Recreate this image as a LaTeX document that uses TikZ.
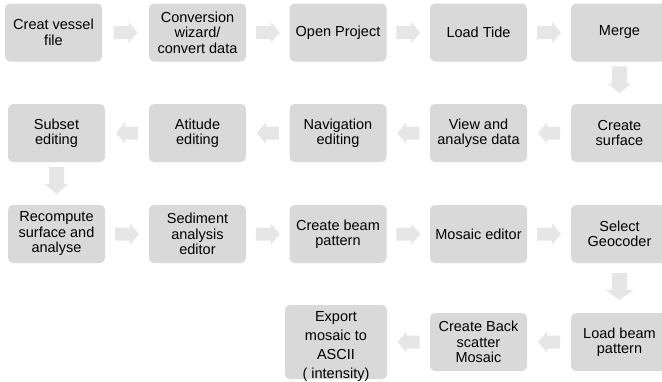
\documentclass[tikz,border=0pt]{standalone}
\usepackage{fontspec}
\setmainfont{Liberation Sans}
\usetikzlibrary{calc}
\definecolor{boxfill}{HTML}{D9D9D9}
\definecolor{arrowfill}{HTML}{E6E6E6}
\begin{document}
\begin{tikzpicture}[x=1pt,y=-1pt,
  stepbox/.style={rounded corners=5pt, fill=boxfill, minimum width=97pt,
    minimum height=58pt, align=center, inner sep=0pt,
    font=\fontsize{14.5}{15.5}\selectfont},
  % block arrow: total length / head width / body width / head length
  pics/blockarrow/.style args={#1/#2/#3/#4}{code={
    \fill[arrowfill] (-#1/2,-#3/2) -- (#1/2-#4,-#3/2) -- (#1/2-#4,-#2/2)
      -- (#1/2,0) -- (#1/2-#4,#2/2) -- (#1/2-#4,#3/2) -- (-#1/2,#3/2) -- cycle;}},
  pics/flowright/.style={code={\pic{blockarrow=24/21/13/9};}},
  pics/flowleft/.style={code={\pic[rotate=180]{blockarrow=22/21/13/9};}},
  pics/flowdown/.style={code={\pic[rotate=-90]{blockarrow=27/#1/15/10};}},
  pics/flowdown/.default=24]
\useasboundingbox (0,0) rectangle (662,381);
\clip (0,0) rectangle (662,381);

% first row, left to right
\node[stepbox] (n1) at (53.5,32.5)  {Creat vessel\\file};
\node[stepbox] (n2) at (197.5,32.5) {Conversion\\wizard/\\convert data};
\node[stepbox] (n3) at (338,32.5)   {Open Project};
\node[stepbox] (n4) at (478.5,32.5) {Load Tide};
\node[stepbox] (n5) at (619.5,32.5) {Merge};

% second row, right to left
\node[stepbox] (m5) at (619.5,133) {Create\\surface};
\node[stepbox] (m4) at (478.5,133) {View and\\analyse data};
\node[stepbox] (m3) at (338,133)   {Navigation\\editing};
\node[stepbox] (m2) at (197.5,133) {Atitude\\editing};
\node[stepbox] (m1) at (56.5,133)  {Subset\\editing};

% third row, left to right
\node[stepbox] (r1) at (56.5,234)  {Recompute\\surface and\\analyse};
\node[stepbox] (r2) at (197.5,234) {Sediment\\analysis\\editor};
\node[stepbox] (r3) at (338,234)   {Create beam\\pattern};
\node[stepbox] (r4) at (478.5,234) {Mosaic editor};
\node[stepbox] (r5) at (619.5,234) {Select\\Geocoder};

% fourth row, right to left
\node[stepbox] (s5) at (619.5,342) {Load beam\\pattern};
\node[stepbox] (s4) at (478.5,342) {Create Back\\scatter\\Mosaic};
\node[stepbox, minimum width=102pt, minimum height=74pt] (s3) at (336,342) {};
\node[align=center, inner sep=0pt, font=\fontsize{14.5}{19}\selectfont]
  (s3text) at ($(s3.center)+(0,5)$) {Export\\mosaic to\\ASCII\\( intensity)};

% block arrows between the steps
\pic at ($(n1.east)!0.5!(n2.west)$) {flowright};
\pic at ($(n2.east)!0.5!(n3.west)$) {flowright};
\pic at ($(n3.east)!0.5!(n4.west)$) {flowright};
\pic at ($(n4.east)!0.5!(n5.west)$) {flowright};
\pic at ($(n5.south)!0.5!(m5.north)+(0,-3)$) {flowdown};
\pic at ($(m5.west)!0.5!(m4.east)$) {flowleft};
\pic at ($(m4.west)!0.5!(m3.east)$) {flowleft};
\pic at ($(m3.west)!0.5!(m2.east)$) {flowleft};
\pic at ($(m2.west)!0.5!(m1.east)$) {flowleft};
\pic at ($(m1.south)!0.5!(r1.north)+(0,-3)$) {flowdown};
\pic at ($(r1.east)!0.5!(r2.west)$) {flowright};
\pic at ($(r2.east)!0.5!(r3.west)$) {flowright};
\pic at ($(r3.east)!0.5!(r4.west)$) {flowright};
\pic at ($(r4.east)!0.5!(r5.west)$) {flowright};
\pic at ($(r5.south)!0.5!(s5.north)+(0,-1.5)$) {flowdown=28};
\pic at ($(s5.west)!0.5!(s4.east)$) {flowleft};
\pic at ($(s4.west)!0.5!(s3.east)$) {flowleft};
\end{tikzpicture}
\end{document}
